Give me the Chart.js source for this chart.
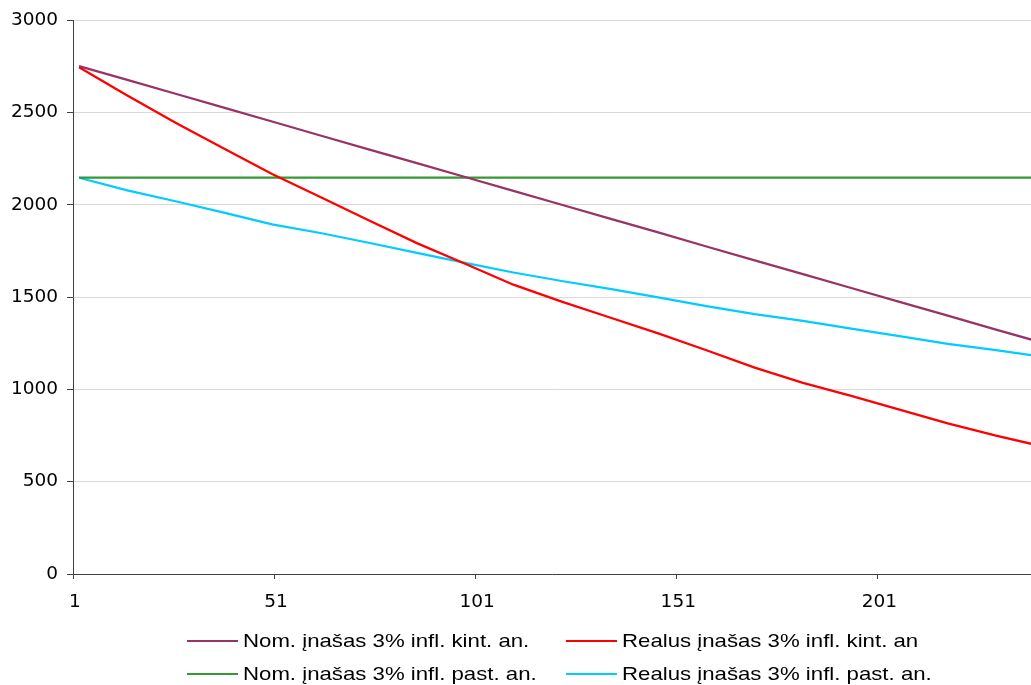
<!DOCTYPE html>
<html>
<head>
<meta charset="utf-8">
<script src="https://cdn.jsdelivr.net/npm/chart.js@4/dist/chart.umd.min.js"></script>
<style>
  html, body { margin: 0; padding: 0; background: #ffffff; overflow: hidden; }
  #wrap { position: relative; width: 1031px; height: 685px; }
  #chart { position: absolute; left: 0; top: 0; }
  .leg { position: absolute; display: flex; align-items: center; font-family: "Liberation Sans", Arial, sans-serif; font-size: 18.5px; color: #000; white-space: nowrap; }
  .leg .swatch { width: 51px; height: 2px; margin-right: 5px; }
  .leg .txt { display: inline-block; transform: scaleX(1.2); transform-origin: left center; }
</style>
</head>
<body>
<div id="wrap">
  <canvas id="chart" width="1031" height="685"></canvas>
</div>
<script>
// Month index of each reading
const months = [2, 14, 26, 38, 50, 62, 74, 86, 98, 110, 122, 134, 146, 158, 170, 182, 194, 206, 218, 230, 239];

// Series values
const nomKint  = [2751, 2676, 2601, 2526, 2451, 2375, 2300, 2225, 2150, 2075, 2000, 1925, 1850, 1774, 1699, 1624, 1549, 1474, 1399, 1324, 1268];
const realKint = [2745, 2592, 2444, 2305, 2166, 2042, 1916, 1792, 1680, 1567, 1475, 1389, 1303, 1212, 1118, 1035, 965, 890, 816, 749, 704];
const nomPast  = [2147, 2147, 2147, 2147, 2147, 2147, 2147, 2147, 2147, 2147, 2147, 2147, 2147, 2147, 2147, 2147, 2147, 2147, 2147, 2147, 2147];
const realPast = [2146, 2078, 2019, 1957, 1894, 1847, 1794, 1739, 1685, 1633, 1587, 1544, 1498, 1451, 1408, 1371, 1329, 1288, 1247, 1212, 1184];

const seriesNames = [
  'Nom. įnašas 3% infl. kint. an.',
  'Realus įnašas 3% infl. kint. an',
  'Nom. įnašas 3% infl. past. an.',
  'Realus įnašas 3% infl. past. an.'
];
const seriesColors = ['#993366', '#FF0000', '#339933', '#00CCFF'];

// Axis labels
const xTickLabels = [1, 51, 101, 151, 201];
const yTickValues = [0, 500, 1000, 1500, 2000, 2500, 3000];

const allSeries = [nomKint, realKint, nomPast, realPast];

const datasets = allSeries.map((vals, i) => ({
  label: seriesNames[i],
  data: months.map((m, j) => ({ x: m, y: vals[j] })),
  borderColor: seriesColors[i],
  backgroundColor: seriesColors[i],
  borderWidth: 2.25,
  pointRadius: 0,
  tension: 0,
  fill: false
}));

const tickFont = { family: '"DejaVu Sans", sans-serif', size: 18.5 };

new Chart(document.getElementById('chart'), {
  type: 'line',
  data: { datasets },
  options: {
    responsive: false,
    animation: false,
    layout: { padding: { top: 20, right: 0, left: 0, bottom: 0 } },
    plugins: { legend: { display: false }, tooltip: { enabled: false } },
    scales: {
      x: {
        type: 'linear',
        min: 0.5,
        max: 238.7,
        afterBuildTicks: (scale) => {
          // tick marks sit on category boundaries, labels name the category
          scale.ticks = xTickLabels.map(v => ({ value: v - 0.5 }));
        },
        afterFit: (scale) => { scale.height = 111; },
        grid: { drawOnChartArea: false, drawTicks: true, tickLength: 5, tickColor: '#404040' },
        border: { display: true, color: '#404040', width: 1 },
        ticks: {
          color: '#000',
          font: tickFont,
          padding: 12,
          labelOffset: 2,
          maxRotation: 0,
          autoSkip: false,
          callback: (v) => String(v + 0.5)
        }
      },
      y: {
        min: 0,
        max: 3000,
        afterBuildTicks: (scale) => {
          scale.ticks = yTickValues.map(v => ({ value: v }));
        },
        afterFit: (scale) => { scale.width = 73; },
        grid: { color: '#d9d9d9', lineWidth: 1, drawTicks: true, tickLength: 6, tickColor: '#404040' },
        border: { display: true, color: '#404040', width: 1 },
        ticks: { color: '#000', font: tickFont, padding: 9, callback: (v) => String(v) }
      }
    }
  }
});

// Legend: two rows of two entries
const wrap = document.getElementById('wrap');
const legCols = [187, 566];
const legRows = [641, 674];
datasets.forEach((ds, i) => {
  const item = document.createElement('div');
  item.className = 'leg';
  item.style.left = legCols[i % 2] + 'px';
  item.style.top = (legRows[Math.floor(i / 2)] - 11) + 'px';
  item.style.height = '22px';
  const sw = document.createElement('span');
  sw.className = 'swatch';
  sw.style.background = ds.borderColor;
  const tx = document.createElement('span');
  tx.className = 'txt';
  tx.textContent = ds.label;
  item.appendChild(sw);
  item.appendChild(tx);
  wrap.appendChild(item);
});
</script>
</body>
</html>
